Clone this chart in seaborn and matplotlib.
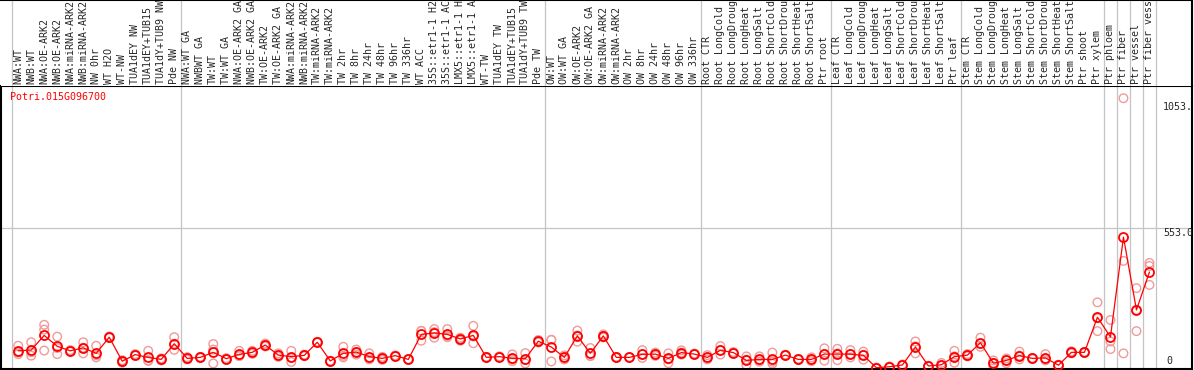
import matplotlib
matplotlib.use("Agg")
import matplotlib.pyplot as plt
import seaborn as sns
import numpy as np
import pandas as pd

# sample names (truncated like the source viewer does)
labels = [
    "NWA:WT", "NWB:WT", "NWA:OE-ARK2", "NWB:OE-ARK2", "NWA:miRNA-ARK2", "NWB:miRNA-ARK2",
    "NW 0hr", "WT H2O", "WT-NW", "TUA1dEY NW", "TUA1dEY+TUB15", "TUA1dY+TUB9 NW", "Pde NW",
    "NWA:WT GA", "NWBWT GA", "TW:WT", "TW:WT GA", "NWA:OE-ARK2 GA", "NWB:OE-ARK2 GA",
    "TW:OE-ARK2", "TW:OE-ARK2 GA", "NWA:miRNA-ARK2", "NWB:miRNA-ARK2", "TW:miRNA-ARK2",
    "TW:miRNA-ARK2", "TW 2hr", "TW 8hr", "TW 24hr", "TW 48hr", "TW 96hr", "TW 336hr",
    "WT ACC", "35S::etr1-1 H2", "35S::etr1-1 AC", "LMX5::etr1-1 H", "LMX5::etr1-1 A",
    "WT-TW", "TUA1dEY TW", "TUA1dEY+TUB15", "TUA1dY+TUB9 TW", "Pde TW",
    "OW:WT", "OW:WT GA", "OW:OE-ARK2", "OW:OE-ARK2 GA", "OW:miRNA-ARK2", "OW:miRNA-ARK2",
    "OW 2hr", "OW 8hr", "OW 24hr", "OW 48hr", "OW 96hr", "OW 336hr",
    "Root CTR", "Root LongCold", "Root LongDroug", "Root LongHeat", "Root LongSalt",
    "Root ShortCold", "Root ShortDrou", "Root ShortHeat", "Root ShortSalt", "Ptr root",
    "Leaf CTR", "Leaf LongCold", "Leaf LongDroug", "Leaf LongHeat", "Leaf LongSalt",
    "Leaf ShortCold", "Leaf ShortDrou", "Leaf ShortHeat", "Leaf ShortSalt", "Ptr leaf",
    "Stem CTR", "Stem LongCold", "Stem LongDroug", "Stem LongHeat", "Stem LongSalt",
    "Stem ShortCold", "Stem ShortDrou", "Stem ShortHeat", "Stem ShortSalt", "Ptr shoot",
    "Ptr xylem", "Ptr phloem", "Ptr fiber", "Ptr vessel", "Ptr fiber vess",
]

mean_expr = [
    68, 71, 129, 86, 68, 80, 58, 122, 27, 53, 42, 34, 96,
    38, 42, 62, 37, 54, 62, 91, 51, 45, 50, 102, 28, 58, 63, 45, 38, 49, 34,
    133, 139, 133, 115, 129, 42, 45, 38, 37, 106,
    83, 42, 127, 58, 127, 42, 42, 54, 55, 38, 61, 55,
    42, 70, 61, 30, 34, 34, 51, 34, 34, 55,
    55, 55, 50, 1, 5, 12, 83, 8, 13, 45,
    51, 100, 19, 30, 49, 38, 40, 11, 62, 62,
    201, 123, 518, 230, 380,
]

rep_a = [
    88, 102, 171, 124, 71, 102, 88, 125, 31, 55, 68, 38, 122,
    43, 44, 95, 39, 68, 68, 97, 58, 68, 53, 104, 29, 84, 73, 58, 44, 50, 35,
    147, 154, 154, 120, 167, 44, 46, 54, 59, 111,
    112, 50, 148, 79, 133, 44, 43, 71, 61, 58, 70, 57,
    51, 87, 63, 46, 46, 61, 53, 36, 42, 78,
    76, 71, 65, 2, 6, 14, 105, 9, 20, 68,
    55, 120, 30, 38, 65, 40, 55, 13, 66, 64,
    260, 190, 1068, 316, 416,
]
rep_b = [
    62, 62, 152, 79, 67, 80, 50, 122, 26, 52, 30, 34, 96,
    37, 42, 73, 36, 48, 62, 91, 51, 42, 50, 102, 27, 48, 63, 42, 38, 48, 34,
    147, 142, 127, 115, 125, 42, 44, 34, 32, 106,
    111, 42, 129, 48, 127, 42, 42, 54, 55, 34, 61, 55,
    41, 70, 61, 33, 32, 25, 51, 34, 34, 55,
    58, 55, 52, 0, 5, 11, 86, 8, 10, 46,
    51, 96, 20, 30, 49, 38, 36, 11, 62, 62,
    197, 105, 424, 230, 404,
]
rep_c = [
    55, 49, 69, 55, 65, 58, 42, 119, 21, 49, 28, 30, 72,
    34, 40, 18, 33, 47, 56, 85, 44, 24, 47, 100, 25, 42, 53, 34, 32, 46, 33,
    108, 120, 122, 108, 98, 40, 42, 27, 18, 101,
    26, 34, 104, 47, 121, 40, 41, 40, 48, 19, 53, 53,
    34, 53, 59, 11, 25, 17, 49, 32, 27, 29,
    31, 42, 33, 0, 4, 10, 58, 7, 9, 21,
    46, 84, 7, 19, 34, 36, 30, 9, 58, 60,
    146, 75, 58, 146, 329,
]

# group separators sit between these column positions
separators = [-0.5, 12.5, 40.5, 52.5, 62.5, 72.5, 83.5, 84.5, 85.5, 86.5, 87.5]
gene_id = "Potri.015G096700"

pos = np.arange(len(labels))
reps = pd.DataFrame({
    "pos": np.concatenate([pos, pos, pos]),
    "value": rep_a + rep_b + rep_c,
})
means = pd.DataFrame({"pos": pos, "value": mean_expr})

sns.set_style("white")
plt.rcParams["font.family"] = ["DejaVu Sans Mono"]

W, H = 1194, 370
fig = plt.figure(figsize=(W / 100, H / 100), dpi=100)

# pixel geometry of the reference
x_left, x_right = 1, 1192
y_top, y_bot = 86, 369
col0, step = 18.2, 13.003
zero_px, px_per_unit = 368, 0.2526

xlim = ((x_left - col0) / step, (x_right - col0) / step)

ax = fig.add_axes([x_left / W, (H - y_bot) / H, (x_right - x_left) / W, (y_bot - y_top) / H])
lab = fig.add_axes([x_left / W, (H - y_top) / H, (x_right - x_left) / W, y_top / H])

ax.set_xlim(*xlim)
ax.set_ylim(-(y_bot - zero_px) / px_per_unit, (zero_px - y_top) / px_per_unit)
lab.set_xlim(*xlim)
lab.set_ylim(0, y_top)

for s in separators:
    ax.axvline(s, color="#c4c4c4", lw=0.9, zorder=0)
    lab.axvline(s, color="#c4c4c4", lw=0.9, zorder=0)
ax.axhline(553, color="#c4c4c4", lw=0.9, zorder=0)

sns.scatterplot(data=reps, x="pos", y="value", ax=ax, marker="o", s=38,
                facecolors="none", edgecolor="#f19a9a", linewidth=1.0,
                legend=False, zorder=2)
sns.lineplot(data=means, x="pos", y="value", ax=ax, color="red", linewidth=0.9,
             marker="o", markersize=6.5, markerfacecolor="none",
             markeredgecolor="red", markeredgewidth=1.3,
             estimator=None, sort=False, zorder=3)

# value labels on the right
ax.text((1163 - col0) / step, 1053, "1053.", fontsize=7.2, va="top", ha="left", clip_on=True)
ax.text((1163 - col0) / step, 553, "553.0", fontsize=7.2, va="top", ha="left", clip_on=True)
ax.text((1166 - col0) / step, 8, "0", fontsize=7.2, va="bottom", ha="left", clip_on=True)

ax.text((10 - col0) / step, (zero_px - 97) / px_per_unit, gene_id, color="red",
        fontsize=7.2, va="center", ha="left")

for k, name in enumerate(labels):
    lab.text(k, 1.5, name, rotation=90, ha="center", va="bottom", fontsize=7.2)

for a in (ax, lab):
    a.set_xticks([])
    a.set_yticks([])
    a.set_xlabel("")
    a.set_ylabel("")

for sp in ax.spines.values():
    sp.set_color("black")
    sp.set_linewidth(1.5)
lab.spines["left"].set_visible(False)
lab.spines["bottom"].set_visible(False)
lab.spines["top"].set_color("black")
lab.spines["top"].set_linewidth(1.5)
lab.spines["right"].set_color("black")
lab.spines["right"].set_linewidth(1.5)

fig.savefig("out.png", dpi=100, facecolor="white")
